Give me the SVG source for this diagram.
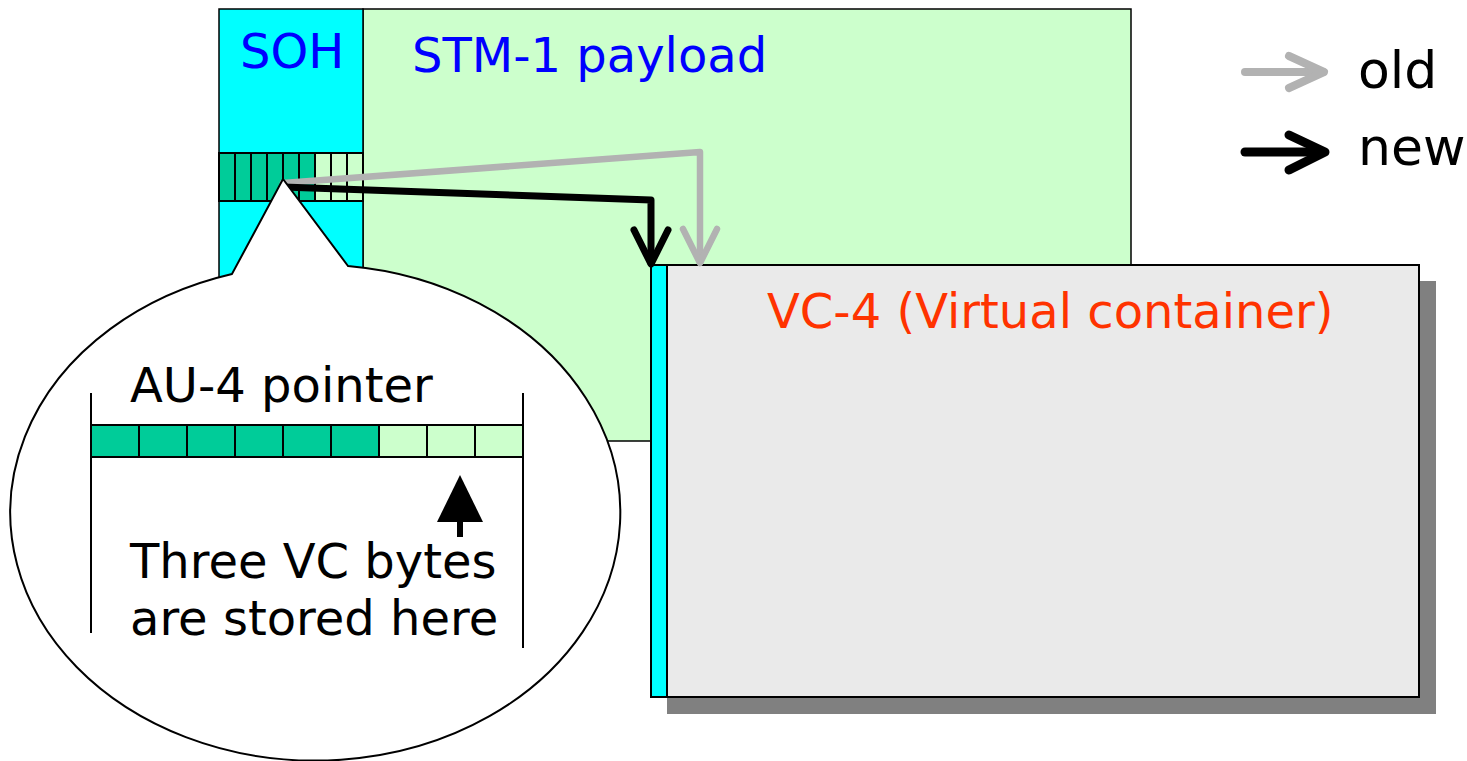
<svg xmlns="http://www.w3.org/2000/svg" width="1467" height="761" viewBox="0 0 1467 761">
  <defs>
    <style>
      .lbl { font-family: "DejaVu Sans", Verdana, sans-serif; font-size: 48px; }
      .blue { fill: #0000FF; }
      .frame { stroke: #000; stroke-width: 1.5; }
      .soh { fill: #00FFFF; }
      .pay { fill: #CCFFCC; }
      .ptr { fill: #00CC99; }
      .cell { fill: none; stroke: #000; stroke-width: 2; }
      .old { fill: none; stroke: #B2B2B2; stroke-width: 6.5; stroke-linecap: round; stroke-linejoin: round; }
      .new { fill: none; stroke: #000; stroke-width: 7; stroke-linecap: round; stroke-linejoin: round; }
    </style>
  </defs>
  <rect width="1467" height="761" fill="#FFFFFF"/>

  <!-- STM-1 frame: section overhead and payload -->
  <g id="stm1">
    <rect x="363" y="9" width="768" height="432" class="pay frame"/>
    <rect x="219" y="9" width="144" height="432" class="soh frame"/>
    <rect x="219" y="153" width="96" height="48" class="ptr"/>
    <rect x="315" y="153" width="48" height="48" class="pay"/>
    <path class="cell" d="M219 153H363V201H219Z M235 153V201 M251 153V201 M267 153V201 M283 153V201 M299 153V201 M315 153V201 M331 153V201 M347 153V201"/>
    <text x="240" y="68" class="lbl blue">SOH</text>
    <text x="412" y="72" class="lbl blue">STM-1 payload</text>
  </g>

  <!-- VC-4 with drop shadow -->
  <g id="vc4">
    <rect x="667" y="281" width="769" height="433" fill="#808080"/>
    <rect x="651" y="265" width="768" height="432" fill="#EAEAEA" stroke="#000" stroke-width="2"/>
    <rect x="651" y="265" width="16" height="432" fill="#00FFFF" stroke="#000" stroke-width="2"/>
    <text x="767" y="328" class="lbl" fill="#FF3300">VC-4 (Virtual container)</text>
  </g>

  <!-- pointer connectors -->
  <g id="connectors">
    <polyline class="old" points="283,183 700,152 700,262"/>
    <polyline class="old" points="683,229 700,263 717,229"/>
    <polyline class="new" points="283,187 651,200 651,263"/>
    <polyline class="new" points="634,230 651,264 668,230"/>
  </g>

  <!-- callout bubble with AU-4 pointer detail -->
  <g id="callout">
    <path d="M348 266 L283 179 L232 274 A305 248 0 1 0 348 266 Z" fill="#FFFFFF" stroke="#000" stroke-width="2" stroke-linejoin="miter"/>
    <text x="130" y="402" class="lbl" fill="#000">AU-4 pointer</text>
    <line x1="91" y1="393" x2="91" y2="633" stroke="#000" stroke-width="2"/>
    <line x1="523" y1="393" x2="523" y2="648" stroke="#000" stroke-width="2"/>
    <rect x="91" y="425" width="288" height="32" class="ptr"/>
    <rect x="379" y="425" width="144" height="32" class="pay"/>
    <path class="cell" d="M91 425H523V457H91Z M139 425V457 M187 425V457 M235 425V457 M283 425V457 M331 425V457 M379 425V457 M427 425V457 M475 425V457"/>
    <polygon points="460,475 437,522 483,522" fill="#000"/>
    <rect x="457" y="520" width="6" height="17" fill="#000"/>
    <text x="130" y="578" class="lbl" fill="#000">Three VC bytes</text>
    <text x="130" y="635" class="lbl" fill="#000">are stored here</text>
  </g>

  <!-- legend -->
  <g id="legend">
    <line x1="1245" y1="72" x2="1323" y2="72" stroke="#B2B2B2" stroke-width="8" stroke-linecap="round"/>
    <polyline points="1289,56 1324,72 1289,88" fill="none" stroke="#B2B2B2" stroke-width="8" stroke-linecap="round" stroke-linejoin="round"/>
    <line x1="1245" y1="152" x2="1323" y2="152" stroke="#000" stroke-width="9" stroke-linecap="round"/>
    <polyline points="1289,135 1325,152 1289,170" fill="none" stroke="#000" stroke-width="9" stroke-linecap="round" stroke-linejoin="round"/>
    <text x="1358" y="88" class="lbl" style="font-size:52px" fill="#000">old</text>
    <text x="1358" y="165" class="lbl" style="font-size:52px" fill="#000">new</text>
  </g>
</svg>
